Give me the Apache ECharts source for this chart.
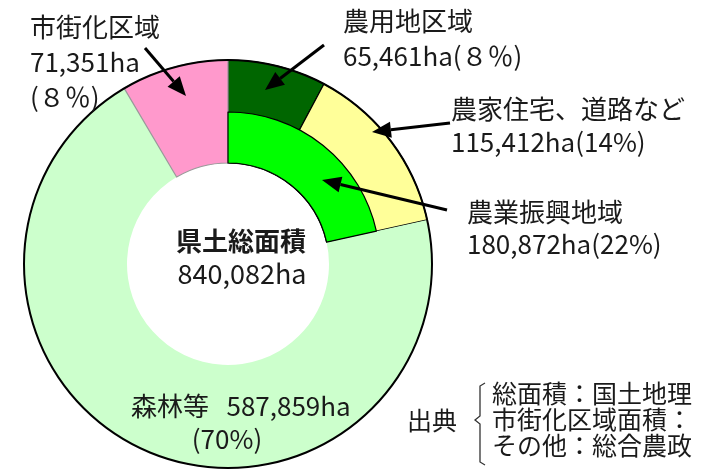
<!DOCTYPE html>
<html>
<head>
<meta charset="utf-8">
<script src="https://cdn.jsdelivr.net/npm/echarts@6/dist/echarts.min.js"></script>
<style>
  html, body { margin: 0; padding: 0; background: #fff; }
  #chart { width: 709px; height: 470px; }
</style>
</head>
<body>
<div id="chart"></div>
<script>
// outer ring, clockwise from 12 o'clock
var regionNames = ['農用地区域', '農家住宅、道路など', '森林等', '市街化区域']
var regionAreas = [65461, 115412, 587859, 71351]
var regionPcts = ['(８％)', '(14%)', '(70%)', '(８％)']
var regionColors = ['#006600', '#FFFF99', '#CCFFCC', '#FF99CC']
var regionBorders = ['#000', '#000', 'transparent', '#999']

// inner ring (農用地区域 + 農家住宅、道路など)
var promoName = '農業振興地域'
var promoArea = 180872
var promoPct = '(22%)'

var totalName = '県土総面積'
var totalArea = 840082

var sourceTitle = '出典'
var sourceLines = ['総面積：国土地理', '市街化区域面積：', 'その他：総合農政']

var FONT = '"Noto Sans CJK JP", "Noto Sans", sans-serif'
var CX = 228
var CY = 264

function ha(v) {
  return v.toLocaleString('en-US') + 'ha'
}

function label(text, x, y, size, opts) {
  opts = opts || {}
  return {
    type: 'text',
    zlevel: 1,
    style: {
      text: text,
      x: x,
      y: y,
      font: (opts.bold ? 'bold ' : '') + size + 'px ' + FONT,
      fill: '#1a1a1a',
      align: opts.align || 'left',
      verticalAlign: 'middle',
      lineHeight: opts.lineHeight || size
    }
  }
}

function arrow(x1, y1, x2, y2) {
  var a = Math.atan2(y2 - y1, x2 - x1)
  var len = 19
  var w = 8
  var bx = x2 - len * Math.cos(a)
  var by = y2 - len * Math.sin(a)
  return {
    type: 'group',
    zlevel: 1,
    children: [
      {
        type: 'line',
        zlevel: 1,
        shape: { x1: x1, y1: y1, x2: bx, y2: by },
        style: { stroke: '#000', lineWidth: 3 }
      },
      {
        type: 'polygon',
        zlevel: 1,
        shape: {
          points: [
            [x2, y2],
            [bx + w * Math.sin(a), by - w * Math.cos(a)],
            [bx - w * Math.sin(a), by + w * Math.cos(a)]
          ]
        },
        style: { fill: '#000' }
      }
    ]
  }
}

var outerData = regionNames.map(function(n, i) {
  return {
    name: n,
    value: regionAreas[i],
    itemStyle: {
      color: regionColors[i],
      borderColor: regionBorders[i],
      borderWidth: regionBorders[i] === 'transparent' ? 0 : 1.2
    }
  }
})

var chart = echarts.init(document.getElementById('chart'))
chart.setOption({
  animation: false,
  backgroundColor: '#fff',
  series: [
    {
      type: 'pie',
      z: 2,
      silent: true,
      center: [CX, CY],
      radius: [101, 204],
      startAngle: 90,
      label: { show: false },
      labelLine: { show: false },
      emphasis: { disabled: true },
      data: outerData
    },
    {
      type: 'pie',
      z: 3,
      silent: true,
      center: [CX, CY],
      radius: [101, 152],
      startAngle: 90,
      label: { show: false },
      labelLine: { show: false },
      emphasis: { disabled: true },
      data: [
        { name: promoName, value: promoArea, itemStyle: { color: '#00FF00', borderColor: '#000', borderWidth: 1.2 } },
        { name: 'rest', value: totalArea - promoArea, itemStyle: { color: 'transparent', borderWidth: 0 } }
      ]
    },
    {
      // outline of the outer circle
      type: 'pie',
      z: 4,
      silent: true,
      center: [CX, CY],
      radius: [203, 205],
      label: { show: false },
      labelLine: { show: false },
      emphasis: { disabled: true },
      data: [{ name: totalName, value: totalArea, itemStyle: { color: '#000', borderWidth: 0 } }]
    }
  ],
  graphic: [
    label(regionNames[3] + '\n' + ha(regionAreas[3]) + '\n' + regionPcts[3], 30, 62, 26, { lineHeight: 35 }),
    label(regionNames[0] + '\n' + ha(regionAreas[0]) + regionPcts[0], 343, 39, 26, { lineHeight: 35 }),
    label(regionNames[1] + '\n' + ha(regionAreas[1]) + regionPcts[1], 451, 126, 26, { lineHeight: 33 }),
    label(promoName + '\n' + ha(promoArea) + promoPct, 467, 228, 26, { lineHeight: 32 }),
    label(totalName, 241, 241, 26, { align: 'center', bold: true }),
    label(ha(totalArea), 242, 274, 27, { align: 'center' }),
    label(regionNames[2] + '   ' + ha(regionAreas[2]), 131, 406, 26),
    label(regionPcts[2], 227, 439, 26, { align: 'center' }),
    label(sourceTitle, 407, 420, 25),
    label(sourceLines.join('\n'), 492, 419, 25, { lineHeight: 26 }),
    {
      type: 'polyline',
      zlevel: 1,
      shape: { points: [[485, 383], [480, 386], [480, 416], [475, 420], [480, 424], [480, 462], [485, 465]] },
      style: { stroke: '#333', lineWidth: 1.3, fill: null }
    },
    arrow(145, 48, 186, 96),
    arrow(324, 45, 265, 90),
    arrow(450, 123, 372, 132),
    arrow(447, 210, 322, 180)
  ]
})
</script>
</body>
</html>
